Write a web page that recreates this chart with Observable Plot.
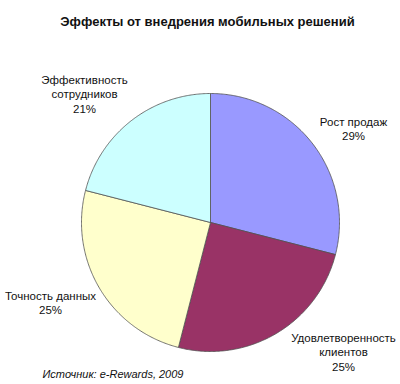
<!DOCTYPE html>
<html><head><meta charset="utf-8">
<script src="https://cdn.jsdelivr.net/npm/d3@7"></script>
<script src="https://cdn.jsdelivr.net/npm/@observablehq/plot@0.6"></script>
<style>body{margin:0;background:#fff;} svg{display:block;}</style>
</head><body><div id="chart"></div>
<script>
const categories = ["Рост продаж", "Удовлетворенность\nклиентов", "Точность данных", "Эффективность\nсотрудников"];
const values = [29, 25, 25, 21];
const colors = ["#9999ff", "#993366", "#ffffcc", "#ccffff"];
const titleText = "Эффекты от внедрения мобильных решений";
const sourceText = "Источник: e-Rewards, 2009";

// layout
const W = 400, H = 384;
const cx = 210, cy = 222, R = 129;
const labelPos = [[353, 128], [343, 351], [50, 302], [84, 93]];

const data = categories.map((c, i) => ({category: c, value: values[i], color: colors[i]}));
const arcs = d3.pie().sort(null).value(d => d.value)(data);

function slicePoints(a) {
  const pts = [{x: cx, y: cy}];
  const n = Math.max(8, Math.ceil((a.endAngle - a.startAngle) / 0.01));
  for (let k = 0; k <= n; k++) {
    const t = a.startAngle + (a.endAngle - a.startAngle) * k / n;
    pts.push({x: cx + R * Math.sin(t), y: cy - R * Math.cos(t)});
  }
  pts.push({x: cx, y: cy});
  return pts;
}

const labels = arcs.map((a, i) => ({
  text: a.data.category + "\n" + a.data.value + "%",
  x: labelPos[i][0], y: labelPos[i][1]
}));

const chart = Plot.plot({
  width: W, height: H,
  margin: 0,
  x: {domain: [0, W], range: [0, W], axis: null},
  y: {domain: [0, H], range: [0, H], axis: null},
  style: {fontFamily: "'Liberation Sans', Arial, sans-serif", background: "#fff"},
  marks: [
    ...arcs.map(a => Plot.line(slicePoints(a), {
      x: "x", y: "y", fill: a.data.color, stroke: "#505050", strokeWidth: 0.8, strokeLinejoin: "round"
    })),
    Plot.text(labels, {x: "x", y: "y", text: "text", fontSize: 11.5, lineHeight: 1.27, fill: "#111"}),
    Plot.text([titleText], {x: () => 207, y: () => 21, text: d => d, fontSize: 13, fontWeight: "bold", fill: "#111"}),
    Plot.text([sourceText], {x: () => 42, y: () => 374, text: d => d, fontSize: 11, fontStyle: "italic", textAnchor: "start", fill: "#111"})
  ]
});
document.getElementById("chart").appendChild(chart);
</script>
</body></html>
